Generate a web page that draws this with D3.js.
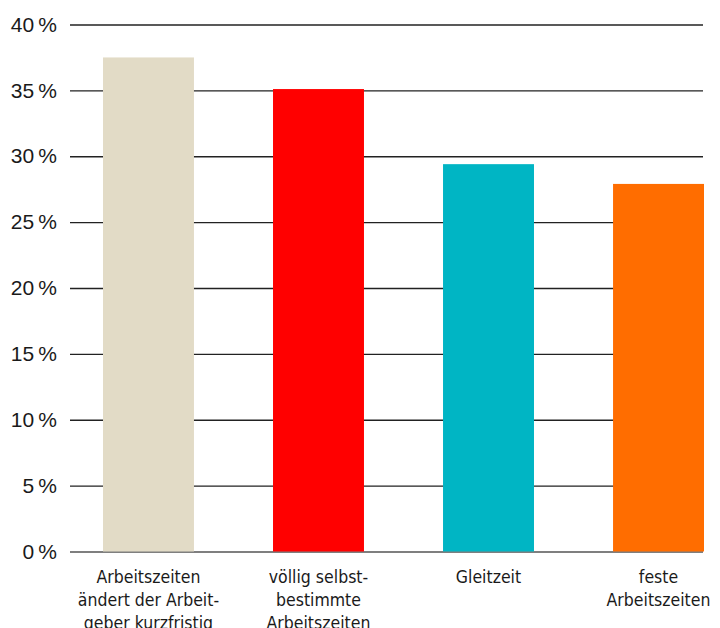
<!DOCTYPE html>
<html>
<head>
<meta charset="utf-8">
<script src="https://cdn.jsdelivr.net/npm/d3@7"></script>
<style>
  html, body { margin: 0; padding: 0; background: #fff; }
  svg { display: block; }
</style>
</head>
<body>
<svg id="chart" width="720" height="628"></svg>
<script>
// Arbeitszeit-Modelle, Anteil in Prozent
const categories = ["kurzfristig", "selbstbestimmt", "gleitzeit", "fest"];
const labelLines = [
  ["Arbeitszeiten", "ändert der Arbeit-", "geber kurzfristig"],
  ["völlig selbst-", "bestimmte", "Arbeitszeiten"],
  ["Gleitzeit"],
  ["feste", "Arbeitszeiten"]
];
const values = [37.5, 35.1, 29.4, 27.9];
const colors = ["#e2dbc6", "#ff0000", "#00b5c4", "#ff6d00"];
const yTicks = [0, 5, 10, 15, 20, 25, 30, 35, 40];

const svg = d3.select("#chart");

const gridLeft = 70, gridRight = 703;
const y = d3.scaleLinear().domain([0, 40]).range([551.5, 24.5]);
const x = d3.scaleBand()
  .domain(categories)
  .range([103, 704])
  .paddingInner(0.465)
  .paddingOuter(0);

// horizontal grid lines with percentage labels
const yAxis = d3.axisLeft(y)
  .tickValues(yTicks)
  .tickSize(-(gridRight - gridLeft))
  .tickPadding(13)
  .tickFormat(d => d + "\u2009%");

const gy = svg.append("g")
  .attr("transform", `translate(${gridLeft},0)`)
  .call(yAxis);
gy.select(".domain").remove();
gy.selectAll(".tick line")
  .attr("stroke", d => d === 0 ? "#555" : "#222")
  .attr("stroke-width", 1.3);
gy.selectAll(".tick text")
  .attr("fill", "#1a1a1a")
  .attr("font-family", "'Liberation Sans', Arial, sans-serif")
  .attr("font-size", 21);

// bars
svg.append("g")
  .selectAll("rect")
  .data(categories)
  .join("rect")
  .attr("x", d => x(d))
  .attr("width", x.bandwidth())
  .attr("y", (d, i) => y(values[i]))
  .attr("height", (d, i) => y(0) - y(values[i]))
  .attr("fill", (d, i) => colors[i]);

// category labels below the baseline
const lab = svg.append("g")
  .selectAll("text")
  .data(categories)
  .join("text")
  .attr("x", d => x(d) + x.bandwidth() / 2)
  .attr("y", 583)
  .attr("text-anchor", "middle")
  .attr("fill", "#1a1a1a")
  .attr("font-family", "'Liberation Sans Narrow', 'DejaVu Sans Condensed', sans-serif")
  .attr("font-size", 17.5);
lab.selectAll("tspan")
  .data((d, i) => labelLines[i])
  .join("tspan")
  .attr("x", function () { return this.parentNode.getAttribute("x"); })
  .attr("dy", (d, i) => i === 0 ? 0 : 23)
  .text(d => d);
</script>
</body>
</html>
